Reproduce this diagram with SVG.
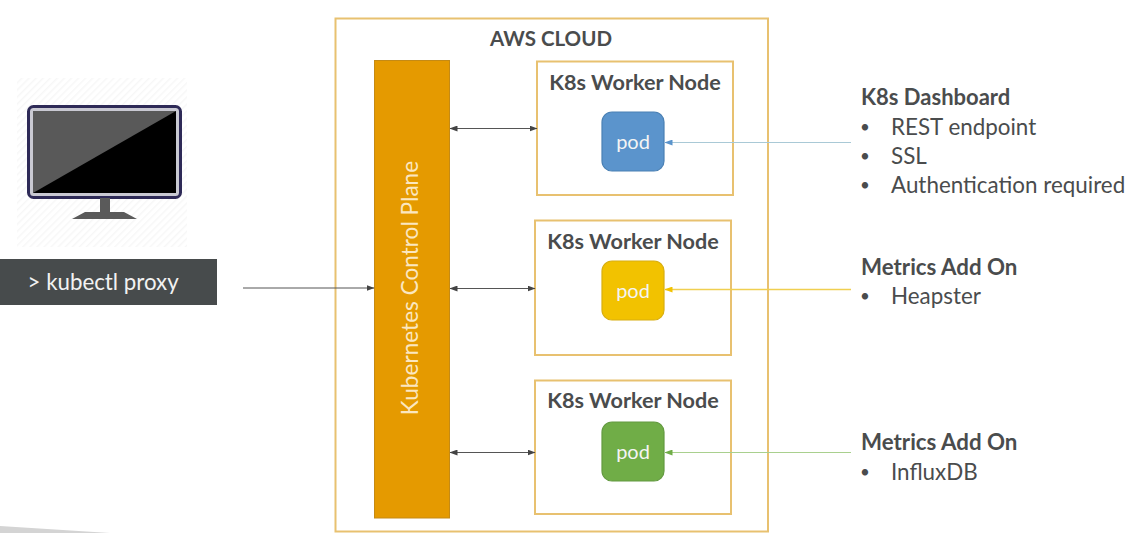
<svg xmlns="http://www.w3.org/2000/svg" width="1139" height="533" viewBox="0 0 1139 533">
<style>
text{font-family:Lato,"Open Sans","Liberation Sans",sans-serif;fill:#4a4c4d}
.b{font-weight:700;font-size:22px}
.t{font-size:22.400px}
.d{font-size:17px;fill:#4a4c4d}
.frame{fill:#fff;stroke:#e8c170;stroke-width:2}
.pod{stroke-width:1.2}
.podt{font-size:20px;fill:#f4f4f4;text-anchor:middle}
.dark{stroke:#555;stroke-width:1;fill:none}
</style>
<defs>
<marker id="ad" markerWidth="8" markerHeight="6" refX="7.500" refY="3" orient="auto-start-reverse" markerUnits="userSpaceOnUse"><path d="M0 0L8 3L0 6z" fill="#444"/></marker>
<marker id="ab" markerWidth="8" markerHeight="6" refX="7.500" refY="3" orient="auto" markerUnits="userSpaceOnUse"><path d="M0 0L8 3L0 6z" fill="#5b94cc"/></marker>
<marker id="ay" markerWidth="8" markerHeight="6" refX="7.500" refY="3" orient="auto" markerUnits="userSpaceOnUse"><path d="M0 0L8 3L0 6z" fill="#f2c200"/></marker>
<marker id="ag" markerWidth="8" markerHeight="6" refX="7.500" refY="3" orient="auto" markerUnits="userSpaceOnUse"><path d="M0 0L8 3L0 6z" fill="#70ad47"/></marker>
<pattern id="hatch" width="5" height="5" patternUnits="userSpaceOnUse" patternTransform="rotate(-45)"><rect width="5" height="5" fill="#fff"/><rect width="5" height="1.500" fill="#f7f7f7"/></pattern>
</defs>
<path id="swoosh" d="M0 526L110 533H0z" fill="#d4d4d4"/>
<g id="monitor">
<rect x="17" y="78" width="170" height="169" fill="url(#hatch)"/>
<rect x="28.500" y="106.500" width="152" height="91" rx="5" fill="#c9c9d2" stroke="#2e2a57" stroke-width="3"/>
<rect x="33" y="111" width="143" height="82" fill="#000"/>
<path d="M33 111H176L33 193z" fill="#595959"/>
<path d="M100 198H110V212H124L137 219H72L85 212H100z" fill="#5a5a5a"/>
</g>
<g id="terminal">
<rect x="0" y="259" width="217" height="46" fill="#474b4c"/>
<text x="27.500" y="290" style="fill:#f2f2f2;font-size:22.300px">&gt; kubectl proxy</text>
</g>
<g id="aws-cloud">
<rect class="frame" x="335.500" y="18.500" width="432.500" height="513"/>
<text x="551" y="46" text-anchor="middle" style="font-weight:700;font-size:20.500px">AWS CLOUD</text>
</g>
<g id="control-plane">
<rect x="374.500" y="60.500" width="75" height="457.500" fill="#e59a00" stroke="#c58a14"/>
<text transform="translate(418 288) rotate(-90)" text-anchor="middle" style="fill:#fbe7c0;font-size:22.600px">Kubernetes Control Plane</text>
</g>
<g id="worker-1">
<rect class="frame" x="537" y="61.500" width="196" height="133.500"/>
<text class="b" x="635" y="90" text-anchor="middle" style="font-size:21.600px">K8s Worker Node</text>
</g>
<g id="worker-2">
<rect class="frame" x="535" y="220.500" width="196" height="134.500"/>
<text class="b" x="633" y="249" text-anchor="middle" style="font-size:21.600px">K8s Worker Node</text>
</g>
<g id="worker-3">
<rect class="frame" x="535" y="380.500" width="196" height="133.500"/>
<text class="b" x="633" y="408" text-anchor="middle" style="font-size:21.600px">K8s Worker Node</text>
</g>
<g id="pod-1">
<rect class="pod" x="602" y="112" width="62" height="59" rx="10" fill="#5b94cc" stroke="#4a80b4"/>
<text class="podt" x="633" y="149">pod</text>
</g>
<g id="pod-2">
<rect class="pod" x="602" y="261" width="62" height="59" rx="10" fill="#f2c200" stroke="#d8ae10"/>
<text class="podt" x="633" y="298">pod</text>
</g>
<g id="pod-3">
<rect class="pod" x="602" y="422" width="62" height="59" rx="10" fill="#70ad47" stroke="#639a40"/>
<text class="podt" x="633" y="459">pod</text>
</g>
<g id="connectors">
<path class="dark" d="M243 288H374" marker-end="url(#ad)"/>
<path class="dark" d="M450 128.500H537" marker-start="url(#ad)" marker-end="url(#ad)"/>
<path class="dark" d="M450 288.500H535" marker-start="url(#ad)" marker-end="url(#ad)"/>
<path class="dark" d="M450 452.500H535" marker-start="url(#ad)" marker-end="url(#ad)"/>
<path d="M851 142.500H665" fill="none" stroke="#a9c9d6" stroke-width="1.200" marker-end="url(#ab)"/>
<path d="M851 289.500H665" fill="none" stroke="#f0cf50" stroke-width="1.300" marker-end="url(#ay)"/>
<path d="M851 452.500H665" fill="none" stroke="#a9d08e" stroke-width="1.200" marker-end="url(#ag)"/>
</g>
<g id="dashboard-notes">
<text class="b" x="861" y="105">K8s Dashboard</text>
<text class="d" x="860" y="133">•</text><text class="t" x="891" y="135">REST endpoint</text>
<text class="d" x="860" y="162">•</text><text class="t" x="891" y="164">SSL</text>
<text class="d" x="860" y="191">•</text><text class="t" x="891" y="193">Authentication required</text>
</g>
<g id="metrics-heapster">
<text class="b" x="861" y="275" style="font-size:22.300px">Metrics Add On</text>
<text class="d" x="860" y="302">•</text><text class="t" x="891" y="304">Heapster</text>
</g>
<g id="metrics-influx">
<text class="b" x="861" y="450" style="font-size:22.300px">Metrics Add On</text>
<text class="d" x="860" y="478">•</text><text class="t" x="891" y="480">InfluxDB</text>
</g>
</svg>
